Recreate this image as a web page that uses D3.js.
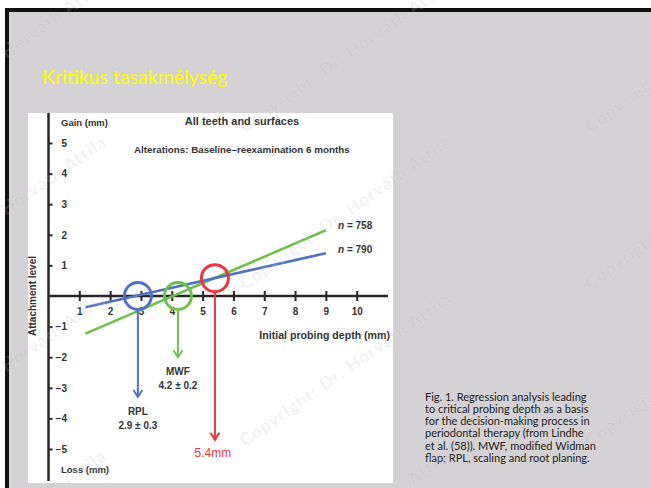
<!DOCTYPE html>
<html>
<head>
<meta charset="utf-8">
<script src="https://cdn.jsdelivr.net/npm/d3@7"></script>
<style>
  body { margin: 0; background: #fff; }
  svg { display: block; }
</style>
</head>
<body>
<svg id="slide" width="651" height="488"></svg>
<script>
// ---- data ----
const xTicks = [1, 2, 3, 4, 5, 6, 7, 8, 9, 10];
const yTicks = [-5, -4, -3, -2, -1, 1, 2, 3, 4, 5];
// regression lines: [initial probing depth, attachment change]
const rplLine = [[1.2, -0.37], [9, 1.4]];   // scaling and root planing, n = 790
const mwfLine = [[1.2, -1.23], [9, 2.15]];  // modified Widman flap, n = 758
const seriesNames = ["n = 790", "n = 758"];
const critical = [
  { name: "RPL", depth: 2.9, sd: 0.3, arrowTo: -3.3, color: "#4f72c6" },
  { name: "MWF", depth: 4.2, sd: 0.2, arrowTo: -2.0, color: "#6ec24b" }
];
const criticalDepth = 5.4;
const captionLines = [
  "Fig. 1. Regression analysis leading",
  "to critical probing depth as a basis",
  "for the decision-making process in",
  "periodontal therapy (from Lindhe",
  "et al. (58)). MWF, modified Widman",
  "flap; RPL, scaling and root planing."
];

const svg = d3.select("#slide");
const axisColor = "#262626";
const textColor = "#333";
const chartFont = "'Liberation Sans', Arial, sans-serif";
const slideFont = "Lato, 'Open Sans', sans-serif";

// ---- slide frame ----
svg.append("rect").attr("x", 5).attr("y", 8).attr("width", 646).attr("height", 480).attr("fill", "#111");
svg.append("rect").attr("x", 9).attr("y", 12).attr("width", 642).attr("height", 476).attr("fill", "#d4d2d4");

svg.append("text")
  .attr("x", 42).attr("y", 84)
  .attr("font-family", slideFont).attr("font-size", 19.5)
  .attr("fill", "#ffff00")
  .text("Kritikus tasakmélység");

// ---- figure panel ----
svg.append("rect").attr("x", 28).attr("y", 113).attr("width", 365).attr("height", 370).attr("fill", "#fff");

const x = d3.scaleLinear().domain([0, 10]).range([48.5, 356.7]);
const y = d3.scaleLinear().domain([-5, 5]).range([449, 143]);

// y axis
svg.append("line")
  .attr("x1", x(0)).attr("x2", x(0)).attr("y1", 113).attr("y2", 481)
  .attr("stroke", axisColor).attr("stroke-width", 2.5);
const yAxis = svg.append("g")
  .attr("transform", `translate(${x(0)},0)`)
  .call(d3.axisRight(y).tickValues(yTicks).tickSize(4));
yAxis.select(".domain").remove();
yAxis.selectAll(".tick line").attr("stroke", axisColor).attr("stroke-width", 2);
yAxis.selectAll(".tick text")
  .attr("x", 18.5).attr("text-anchor", "end")
  .attr("font-family", chartFont).attr("font-weight", "bold").attr("font-size", 10)
  .attr("fill", textColor);

// x axis
svg.append("line")
  .attr("x1", x(0)).attr("x2", 388).attr("y1", y(0)).attr("y2", y(0))
  .attr("stroke", axisColor).attr("stroke-width", 2.5);
const xAxis = svg.append("g")
  .attr("transform", `translate(0,${y(0)})`)
  .call(d3.axisBottom(x).tickValues(xTicks).tickSize(5));
xAxis.select(".domain").remove();
xAxis.selectAll(".tick line").attr("y1", -5).attr("y2", 5).attr("stroke", axisColor).attr("stroke-width", 2);
xAxis.selectAll(".tick text")
  .attr("y", 12)
  .attr("font-family", chartFont).attr("font-weight", "bold").attr("font-size", 10)
  .attr("fill", textColor);

// labels of the figure
function label(t, px, py, opts = {}) {
  return svg.append("text")
    .attr("x", px).attr("y", py)
    .attr("font-family", chartFont)
    .attr("font-weight", opts.weight || "bold")
    .attr("font-size", opts.size || 10)
    .attr("text-anchor", opts.anchor || "start")
    .attr("fill", opts.color || textColor)
    .text(t);
}
label("Gain (mm)", 61, 125.5, { size: 9.5 });
label("Loss (mm)", 61, 472.5, { size: 9.5 });
label("All teeth and surfaces", 242, 125, { size: 11, anchor: "middle" });
label("Alterations: Baseline\u2013reexamination 6 months", 134, 152.5, { size: 9.8 });
label("Initial probing depth (mm)", 390, 338.5, { size: 10.6, anchor: "end" });
svg.append("text")
  .attr("transform", `translate(36,${y(0)}) rotate(-90)`)
  .attr("text-anchor", "middle")
  .attr("font-family", chartFont).attr("font-weight", "bold").attr("font-size", 10)
  .attr("fill", textColor)
  .text("Attachment level");

// regression lines
const line = d3.line().x(d => x(d[0])).y(d => y(d[1]));
svg.append("path").datum(mwfLine).attr("d", line)
  .attr("fill", "none").attr("stroke", "#6ec24b").attr("stroke-width", 2.6);
svg.append("path").datum(rplLine).attr("d", line)
  .attr("fill", "none").attr("stroke", "#4f72c6").attr("stroke-width", 2.6);

[[seriesNames[1], 228.5], [seriesNames[0], 252.5]].forEach(([name, py]) => {
  const t = svg.append("text")
    .attr("x", 338).attr("y", py)
    .attr("font-family", chartFont).attr("font-weight", "bold").attr("font-size", 10)
    .attr("fill", textColor);
  t.append("tspan").attr("font-style", "italic").text(name.slice(0, 1));
  t.append("tspan").text(name.slice(1));
});

// arrow helper: shaft plus open arrowhead
function arrow(px, y0, y1, color) {
  svg.append("line")
    .attr("x1", px).attr("x2", px).attr("y1", y0).attr("y2", y1)
    .attr("stroke", color).attr("stroke-width", 2);
  svg.append("path")
    .attr("d", `M${px - 4.5},${y1 - 7} L${px},${y1} L${px + 4.5},${y1 - 7}`)
    .attr("fill", "none").attr("stroke", color).attr("stroke-width", 2);
}

// critical probing depths per therapy
const r = 13.5;
critical.forEach(c => {
  const cx = x(c.depth), cy = y(0);
  arrow(cx, cy + r, y(c.arrowTo), c.color);
  svg.append("circle").attr("cx", cx).attr("cy", cy).attr("r", r)
    .attr("fill", "none").attr("stroke", c.color).attr("stroke-width", 3);
  const ly = y(c.arrowTo) + 18;
  label(c.name, cx, ly, { size: 10, anchor: "middle" });
  label(`${c.depth.toFixed(1)} \u00b1 ${c.sd.toFixed(1)}`, cx, ly + 14, { size: 10, anchor: "middle" });
});

// point where the two regression lines cross
const lineAt = (pts, v) => pts[0][1] + (pts[1][1] - pts[0][1]) * (v - pts[0][0]) / (pts[1][0] - pts[0][0]);
const redY = y(lineAt(rplLine, criticalDepth));
const red = "#e8383d";
arrow(x(criticalDepth), redY + r, y(-4.7), red);
svg.append("circle").attr("cx", x(criticalDepth)).attr("cy", redY).attr("r", r)
  .attr("fill", "none").attr("stroke", red).attr("stroke-width", 3);
label(`${criticalDepth}mm`, x(criticalDepth) - 2, 456.5, { size: 12, weight: "normal", anchor: "middle", color: red });

// ---- caption ----
const cap = svg.append("text")
  .attr("font-family", slideFont).attr("font-size", 11).attr("fill", "#1e1e1e");
captionLines.forEach((t, i) => {
  cap.append("tspan").attr("x", 425).attr("y", 400.5 + i * 12.3).text(t);
});

// ---- watermark ----
const wm = svg.append("g").attr("pointer-events", "none");
[-100, 245, 590].forEach(wx => {
  [-24, 133, 290, 447, 604].forEach(wy => {
    wm.append("text")
      .attr("transform", `translate(${wx},${wy}) rotate(-35)`)
      .attr("font-family", slideFont).attr("font-size", 17)
      .attr("letter-spacing", 1.4)
      .attr("fill", "rgba(150,150,150,0.16)")
      .attr("stroke", "rgba(255,255,255,0.18)").attr("stroke-width", 0.6)
      .text("Copyright: Dr. Horváth Attila");
  });
});
</script>
</body>
</html>
